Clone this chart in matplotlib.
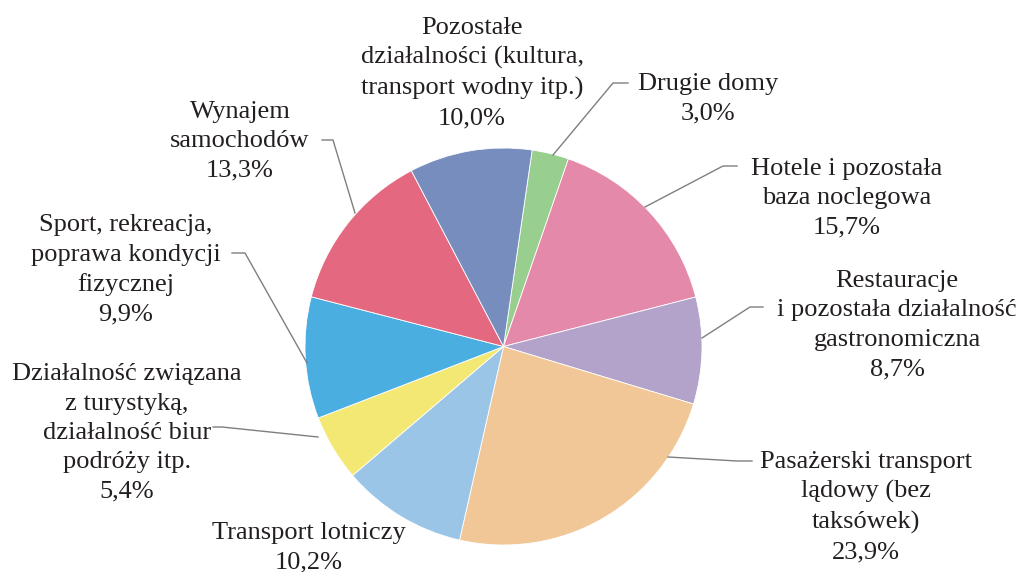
import matplotlib
matplotlib.use("Agg")
import matplotlib.pyplot as plt

# Data (clockwise order starting just right of top)
categories = [
    "Drugie domy",
    "Hotele i pozostała\nbaza noclegowa",
    "Restauracje\ni pozostała działalność\ngastronomiczna",
    "Pasażerski transport\nlądowy (bez\ntaksówek)",
    "Transport lotniczy",
    "Działalność związana\nz turystyką,\ndziałalność biur\npodróży itp.",
    "Sport, rekreacja,\npoprawa kondycji\nfizycznej",
    "Wynajem\nsamochodów",
    "Pozostałe\ndziałalności (kultura,\ntransport wodny itp.)",
]
values = [3.0, 15.7, 8.7, 23.9, 10.2, 5.4, 9.9, 13.3, 10.0]
value_labels = ["3,0%", "15,7%", "8,7%", "23,9%", "10,2%", "5,4%", "9,9%", "13,3%", "10,0%"]
colors = ["#98CE8E", "#E589AA", "#B3A2C9", "#F2C797", "#9AC5E6",
          "#F4E874", "#4AAEE0", "#E4687F", "#768DBE"]

W, H = 1021, 572
fig = plt.figure(figsize=(W / 100, H / 100), dpi=100)
ax = fig.add_axes([0, 0, 1, 1])

def Y(y):
    return H - y

cx, cy, r = 503.5, 346.5, 198.5
ax.pie(values, colors=colors, startangle=81.7, counterclock=False,
       center=(cx, Y(cy)), radius=r, frame=True,
       wedgeprops=dict(edgecolor="white", linewidth=0.6))
ax.set_xlim(0, W)
ax.set_ylim(0, H)
ax.axis("off")

# label centres (pixel coords, y down)
label_pos = [(708, 99), (847, 198), (897, 325), (866, 507), (309, 548),
             (127, 433), (126, 270), (240, 141), (472, 73)]

# leader lines (pixel coords, y down)
leaders = {
    0: [(553, 155), (613, 83), (628, 83)],
    1: [(645, 207), (723, 166), (737, 166)],
    2: [(702, 338), (750, 307), (763, 307)],
    3: [(668, 457), (737, 461), (752, 461)],
    5: [(318, 437), (222, 427), (213, 427)],
    6: [(307, 363), (245, 253), (232, 253)],
    7: [(355, 213), (333, 140), (322, 140)],
}

for i, (lab, val) in enumerate(zip(categories, value_labels)):
    x, y = label_pos[i]
    ax.text(x, Y(y), lab + "\n" + val, ha="center", va="center",
            fontsize=19, family="Liberation Serif", color="#231F20",
            linespacing=1.43)

for i, pts in leaders.items():
    xs = [p[0] for p in pts]
    ys = [Y(p[1]) for p in pts]
    ax.plot(xs, ys, color="#7F7F7F", linewidth=1.0)

fig.savefig("out.png", dpi=100, facecolor="white")
